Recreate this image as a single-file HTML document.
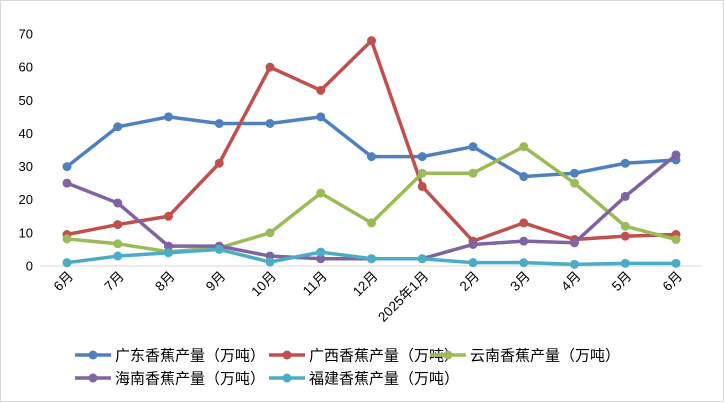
<!DOCTYPE html>
<html><head><meta charset="utf-8"><style>
body{margin:0;background:#fff;}
svg{display:block;font-family:"Liberation Sans","Noto Sans CJK SC",sans-serif;}
</style></head><body>
<svg id="chart" width="725" height="403">
<rect x="0.5" y="0.5" width="723" height="401" fill="#fff" stroke="#d9d9d9"/>
<g id="yaxis"></g>
<g id="xaxis"></g>
<g id="series"></g>
<g id="legend"></g>
</svg>
<script>
const categories=["6月","7月","8月","9月","10月","11月","12月","2025年1月","2月","3月","4月","5月","6月"];
const yTicks=[0,10,20,30,40,50,60,70];
const seriesNames=["广东香蕉产量（万吨）","广西香蕉产量（万吨）","云南香蕉产量（万吨）","海南香蕉产量（万吨）","福建香蕉产量（万吨）"];
const guangdong=[30,42,45,43,43,45,33,33,36,27,28,31,32];
const guangxi=[9.5,12.5,15,31,60,53,68,24,7.5,13,8,9,9.5];
const yunnan=[8.2,6.7,4.3,5.5,10,22,13,28,28,36,25,12,8];
const hainan=[25,19,6,6,3,2.2,2.2,2.2,6.5,7.5,7,21,33.5];
const fujian=[1,3,4,5,1.2,4.2,2.2,2.2,1,1,0.5,0.8,0.8];
const colors=["#4f81bd","#c0504d","#9bbb59","#8064a2","#4bacc6"];
const allSeries=[guangdong,guangxi,yunnan,hainan,fujian];
const NS="http://www.w3.org/2000/svg";
const x0=67,x1=676,yb=266,yt=34,ymax=70;
const xs=i=>x0+(x1-x0)*i/(categories.length-1);
const ys=v=>yb-(yb-yt)*v/ymax;
function mk(tag,attrs,parent){const e=document.createElementNS(NS,tag);for(const k in attrs)e.setAttribute(k,attrs[k]);parent.appendChild(e);return e;}
const ya=document.getElementById('yaxis'),xa=document.getElementById('xaxis'),sg=document.getElementById('series'),lg=document.getElementById('legend');
yTicks.forEach(t=>{const tx=mk('text',{x:33,y:ys(t)+4.5,'text-anchor':'end','font-size':13,fill:'#000'},ya);tx.textContent=t;

});
const al=mk('line',{x1:40,x2:702,y1:yb,y2:yb,stroke:'#d9d9d9','stroke-width':1},xa);


categories.forEach((c,i)=>{const x=xs(i)+7,y=277;const tx=mk('text',{x:x,y:y,'text-anchor':'end','font-size':13.5,fill:'#000',transform:`rotate(-45 ${x} ${y})`},xa);tx.textContent=c;

});
allSeries.forEach((s,k)=>{const g=mk('g',{},sg);


mk('polyline',{points:s.map((v,i)=>xs(i)+','+ys(v)).join(' '),fill:'none',stroke:colors[k],'stroke-width':3.5,'stroke-linejoin':'round'},g);
s.forEach((v,i)=>{const c=mk('circle',{cx:xs(i),cy:ys(v),r:4.5,fill:colors[k]},g);

});});
const lpos=[[75,355],[269,355],[430,355],[75,378],[269,378]];
seriesNames.forEach((n,k)=>{const [x,y]=lpos[k];const g=mk('g',{},lg);


mk('line',{x1:x,x2:x+36,y1:y,y2:y,stroke:colors[k],'stroke-width':3.5},g);
mk('circle',{cx:x+18,cy:y,r:4.5,fill:colors[k]},g);
const t=mk('text',{x:x+40,y:y+5.5,'font-size':15,fill:'#000'},g);t.textContent=n;});
</script>
</body></html>
